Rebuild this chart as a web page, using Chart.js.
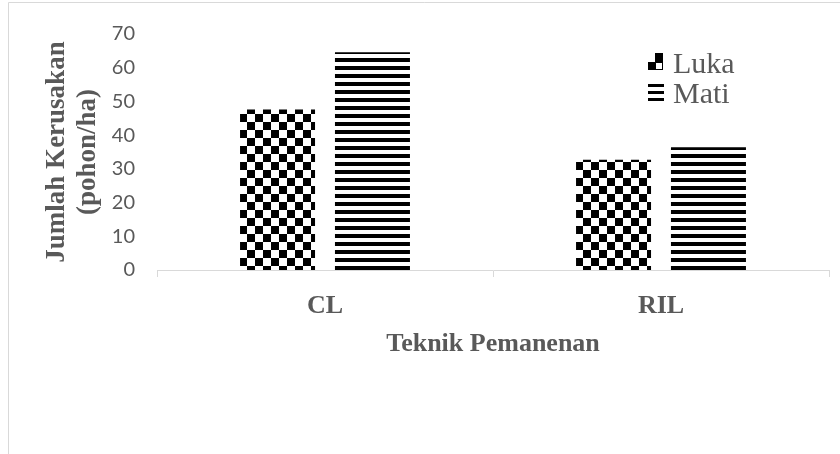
<!DOCTYPE html>
<html>
<head>
<meta charset="utf-8">
<script src="https://cdn.jsdelivr.net/npm/chart.js@4.4.1/dist/chart.umd.min.js"></script>
<style>
  body { margin: 0; background: #fff; }
  canvas { display: block; }
</style>
</head>
<body>
<canvas id="chart" width="840" height="454"></canvas>
<script>
// data
var categories = ['CL', 'RIL'];
var luka = [47.6, 32.7];
var mati = [64.6, 36.4];
var yTicks = [0, 10, 20, 30, 40, 50, 60, 70];

var grey = '#595959';
var lineGrey = '#d9d9d9';

var canvas = document.getElementById('chart');
var ctx = canvas.getContext('2d');

// checker pattern for Luka, 8px squares
function makeChecker() {
    var c = document.createElement('canvas');
    c.width = 16; c.height = 16;
    var g = c.getContext('2d');
    g.fillStyle = '#fff';
    g.fillRect(0, 0, 16, 16);
    g.fillStyle = '#000';
    g.fillRect(7, 10, 8, 8);
    g.fillRect(7, -6, 8, 8);
    g.fillRect(15, 2, 8, 8);
    g.fillRect(-1, 2, 8, 8);
    return ctx.createPattern(c, 'repeat');
}

// horizontal stripes for Mati
function makeStripes() {
    var c = document.createElement('canvas');
    c.width = 8; c.height = 8;
    var g = c.getContext('2d');
    g.fillStyle = '#fff';
    g.fillRect(0, 0, 8, 8);
    g.fillStyle = '#000';
    g.fillRect(0, 2, 8, 4);
    return ctx.createPattern(c, 'repeat');
}

var frame = {
    id: 'frame',
    beforeDraw: function(chart) {
        var c = chart.ctx;
        c.save();
        c.fillStyle = '#fff';
        c.fillRect(0, 0, chart.width, chart.height);
        c.strokeStyle = lineGrey;
        c.lineWidth = 1;
        c.beginPath();
        c.moveTo(8.5, chart.height);
        c.lineTo(8.5, 2.5);
        c.lineTo(chart.width, 2.5);
        c.stroke();
        c.restore();
    }
};

// legend drawn inside the plot, top right
var legendIn = {
    id: 'legendIn',
    afterDraw: function(chart) {
        var c = chart.ctx;
        var a = chart.chartArea;
        var x = a.right - 181;
        var ds = chart.data.datasets;
        c.save();
        c.font = '30px "Liberation Serif", "Times New Roman", serif';
        c.textBaseline = 'alphabetic';
        c.textAlign = 'left';

        // Luka swatch
        var y1 = a.top + 19;
        c.fillStyle = '#000';
        c.fillRect(x + 7, y1, 8, 9);
        c.fillRect(x, y1 + 9, 8, 8);
        c.strokeStyle = '#000';
        c.lineWidth = 1;
        c.strokeRect(x + 7.5, y1 + 9.5, 7, 7);
        c.fillStyle = grey;
        c.fillText(ds[0].label, x + 25, a.top + 39);

        // Mati swatch
        var y2 = a.top + 50;
        c.fillStyle = '#000';
        c.fillRect(x, y2, 16, 3);
        c.fillRect(x, y2 + 7, 16, 3);
        c.fillRect(x, y2 + 14, 16, 3);
        c.fillStyle = grey;
        c.fillText(ds[1].label, x + 25, a.top + 69);
        c.restore();
    }
};

var data = {
    labels: categories,
    datasets: [{
        label: 'Luka',
        data: luka,
        backgroundColor: makeChecker(),
        borderWidth: 0,
        categoryPercentage: 0.565,
        barPercentage: 0.79
    }, {
        label: 'Mati',
        data: mati,
        backgroundColor: makeStripes(),
        borderWidth: 0,
        categoryPercentage: 0.565,
        barPercentage: 0.79
    }]
};

var serif = '"Liberation Serif", "Times New Roman", serif';

var options = {
    responsive: false,
    animation: false,
    devicePixelRatio: 1,
    layout: {
        padding: { left: 0, right: 11, top: 31, bottom: 0 }
    },
    plugins: {
        legend: { display: false },
        tooltip: { enabled: false }
    },
    scales: {
        x: {
            afterFit: function(scale) { scale.height = 184; },
            grid: {
                display: true,
                drawOnChartArea: false,
                drawTicks: true,
                tickLength: 7,
                color: lineGrey,
                offset: true
            },
            border: { display: true, color: lineGrey, width: 1 },
            ticks: {
                color: grey,
                padding: 14,
                font: { family: serif, size: 26, weight: 'bold' }
            },
            title: {
                display: true,
                text: 'Teknik Pemanenan',
                color: grey,
                padding: { top: 0, bottom: 94 },
                font: { family: serif, size: 26, weight: 'bold' }
            }
        },
        y: {
            min: 0,
            max: 70,
            afterFit: function(scale) { scale.width = 157; },
            afterBuildTicks: function(scale) {
                scale.ticks = yTicks.map(function(v) { return { value: v }; });
            },
            grid: { display: false, drawTicks: false },
            border: { display: false },
            ticks: {
                color: grey,
                padding: 22,
                font: { family: 'Lato, "Open Sans", sans-serif', size: 20 }
            },
            title: {
                display: true,
                text: ['Jumlah Kerusakan', '(pohon/ha)'],
                color: grey,
                padding: { top: 41, bottom: 0 },
                font: { family: serif, size: 27, weight: 'bold', lineHeight: 1.17 }
            }
        }
    }
};

var bar = new Chart(ctx, {
    type: 'bar',
    data: data,
    options: options,
    plugins: [frame, legendIn]
});
</script>
</body>
</html>
